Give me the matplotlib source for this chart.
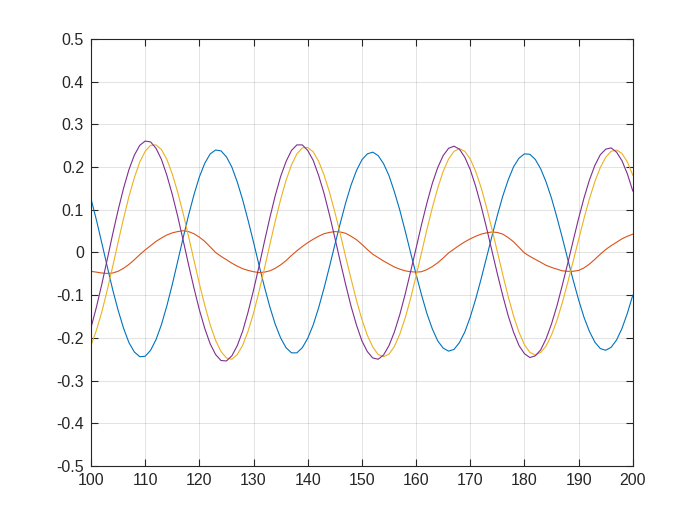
import matplotlib
matplotlib.use("Agg")
import matplotlib.pyplot as plt
import numpy as np

plt.rcParams['font.family'] = ['Liberation Sans', 'DejaVu Sans']

x = list(range(100, 201))

blue = [0.126, 0.076, 0.022, -0.033, -0.087, -0.135, -0.177, -0.211, -0.233, -0.244,
        -0.243, -0.229, -0.204, -0.169, -0.125, -0.075, -0.021, 0.034, 0.087, 0.135, 0.177, 0.209, 0.231, 0.240,
        0.238, 0.224, 0.200, 0.165, 0.123, 0.075, 0.024, -0.029, -0.080, -0.127, -0.168, -0.200, -0.223, -0.235,
        -0.235, -0.223, -0.201, -0.170, -0.130, -0.084, -0.034, 0.018, 0.068, 0.116, 0.158, 0.192, 0.217, 0.231,
        0.235, 0.227, 0.208, 0.180, 0.142, 0.099, 0.050, -0.001, -0.051, -0.099, -0.143, -0.179, -0.207, -0.224, -0.231,
        -0.227, -0.211, -0.186, -0.151, -0.109, -0.062, -0.012, 0.038, 0.087, 0.132, 0.170, 0.201, 0.221, 0.231,
        0.230, 0.218, 0.196, 0.165, 0.127, 0.082, 0.034, -0.016, -0.065, -0.111, -0.152, -0.185, -0.210, -0.225,
        -0.229, -0.222, -0.205, -0.178, -0.142, -0.100]

orange = [-0.044, -0.046, -0.048, -0.049, -0.048, -0.044, -0.037, -0.028, -0.017, -0.005,
          0.006, 0.016, 0.026, 0.034, 0.041, 0.046, 0.049, 0.051, 0.049, 0.044,
          0.036, 0.026, 0.013, 0.000, -0.009, -0.017, -0.025, -0.032, -0.038, -0.042,
          -0.045, -0.047, -0.046, -0.043, -0.037, -0.029, -0.019, -0.007, 0.004, 0.014,
          0.023, 0.031, 0.038, 0.044, 0.047, 0.049, 0.048, 0.045, 0.038, 0.030,
          0.019, 0.007, -0.004, -0.012, -0.020, -0.027, -0.034, -0.039, -0.043, -0.045,
          -0.046, -0.045, -0.040, -0.033, -0.024, -0.013, -0.001, 0.008, 0.017, 0.025,
          0.032, 0.038, 0.043, 0.046, 0.048, 0.047, 0.043, 0.035, 0.025, 0.012,
          -0.001, -0.009, -0.016, -0.023, -0.030, -0.035, -0.039, -0.043, -0.044, -0.044,
          -0.042, -0.036, -0.027, -0.016, -0.004, 0.007, 0.016, 0.024, 0.032, 0.038,
          0.043]

yellow = [-0.218, -0.182, -0.139, -0.088, -0.033, 0.024, 0.079, 0.131, 0.175, 0.212, 0.237, 0.251,
          0.252, 0.241, 0.218, 0.184, 0.141, 0.092, 0.038, -0.018, -0.073, -0.124, -0.169, -0.206, -0.232, -0.247,
          -0.250, -0.239, -0.217, -0.184, -0.142, -0.092, -0.038, 0.018, 0.073, 0.124, 0.169, 0.205, 0.231, 0.245,
          0.246, 0.236, 0.214, 0.182, 0.142, 0.095, 0.044, -0.010, -0.062, -0.112, -0.157, -0.194, -0.221, -0.239,
          -0.244, -0.238, -0.220, -0.191, -0.153, -0.107, -0.055, -0.001, 0.054, 0.105, 0.151, 0.190, 0.219, 0.237, 0.243,
          0.237, 0.219, 0.190, 0.152, 0.106, 0.055, 0.002, -0.052, -0.103, -0.149, -0.187, -0.216, -0.234, -0.240,
          -0.234, -0.219, -0.193, -0.159, -0.117, -0.070, -0.020, 0.030, 0.080, 0.126, 0.166, 0.199, 0.223, 0.237,
          0.240, 0.232, 0.212, 0.181]

purple = [-0.176, -0.128, -0.074, -0.016, 0.043, 0.099, 0.150, 0.194, 0.228, 0.251, 0.261,
          0.259, 0.244, 0.218, 0.181, 0.136, 0.085, 0.029, -0.028, -0.083, -0.134, -0.178, -0.214, -0.239, -0.253,
          -0.254, -0.242, -0.218, -0.184, -0.139, -0.088, -0.033, 0.025, 0.081, 0.133, 0.178, 0.213, 0.239, 0.252,
          0.252, 0.239, 0.216, 0.181, 0.139, 0.089, 0.035, -0.021, -0.075, -0.126, -0.170, -0.207, -0.232, -0.247,
          -0.250, -0.240, -0.218, -0.186, -0.145, -0.097, -0.044, 0.010, 0.065, 0.116, 0.162, 0.199, 0.227, 0.244,
          0.249, 0.242, 0.223, 0.194, 0.155, 0.109, 0.058, 0.004, -0.050, -0.101, -0.148, -0.187, -0.218, -0.237, -0.246,
          -0.242, -0.228, -0.202, -0.167, -0.125, -0.076, -0.025, 0.028, 0.080, 0.128, 0.170, 0.204, 0.229, 0.242,
          0.245, 0.235, 0.215, 0.184, 0.144]

xticks = [100, 110, 120, 130, 140, 150, 160, 170, 180, 190, 200]
yticks = [-0.5, -0.4, -0.3, -0.2, -0.1, 0, 0.1, 0.2, 0.3, 0.4, 0.5]
ytick_labels = ['-0.5', '-0.4', '-0.3', '-0.2', '-0.1', '0', '0.1', '0.2', '0.3', '0.4', '0.5']

fig = plt.figure(figsize=(7, 5.25), dpi=100)
ax = fig.add_axes([0.13, 0.1124, 0.774, 0.8133])

lw = 0.8
for ys, c in [(blue, '#0072BD'), (orange, '#D95319'), (yellow, '#EDB120'), (purple, '#7E2F8E')]:
    ax.plot(x, ys, color=c, lw=lw, solid_joinstyle='round')

ax.set_xlim(100, 200)
ax.set_ylim(-0.5, 0.5)
ax.set_xticks(xticks)
ax.set_yticks(yticks)
ax.set_yticklabels(ytick_labels)
ax.grid(True, color='#262626', alpha=0.15, lw=0.6)
ax.set_axisbelow(True)
for s in ax.spines.values():
    s.set_color('#262626')
    s.set_linewidth(0.8)
ax.tick_params(direction='in', length=5, width=0.8, colors='#262626',
               top=True, right=True, labelsize=11.5, pad=5)
for lab in ax.get_xticklabels() + ax.get_yticklabels():
    lab.set_color('#262626')

fig.savefig('out.png', dpi=100)
